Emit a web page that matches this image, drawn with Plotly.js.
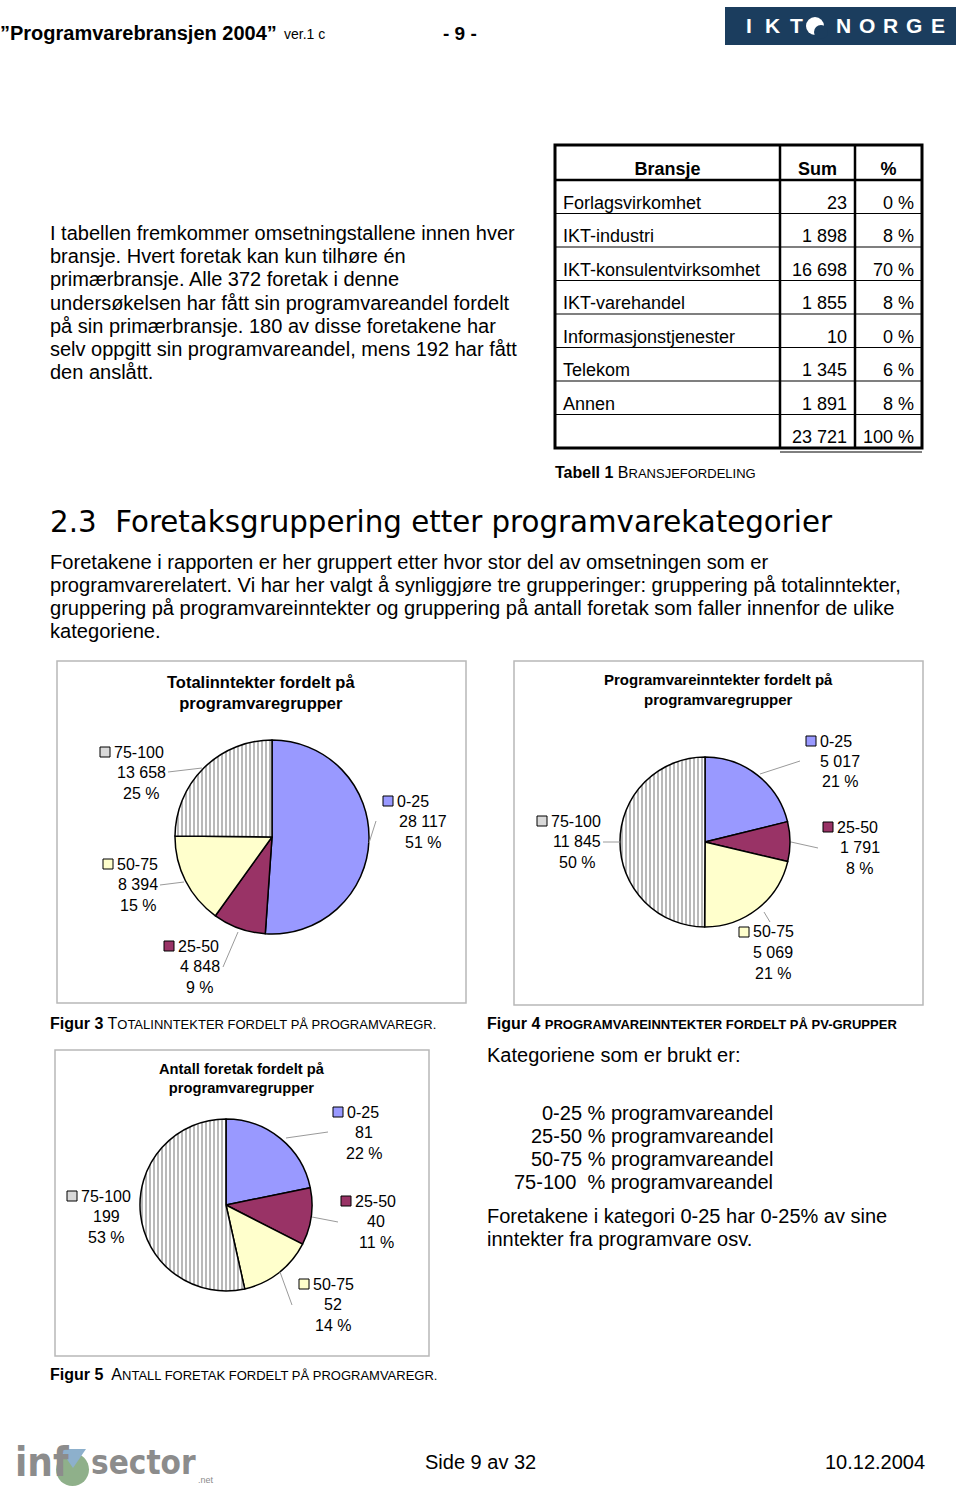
<!DOCTYPE html>
<html>
<head>
<meta charset="utf-8">
<script src="https://cdn.plot.ly/plotly-3.0.1.min.js"></script>
<style>
  body { margin: 0; background: #fff; }
  #page { width: 960px; height: 1491px; }
</style>
</head>
<body>
<div id="page"></div>
<script>
// table 1 - bransjefordeling
var bransjer = ['Forlagsvirkomhet', 'IKT-industri', 'IKT-konsulentvirksomhet', 'IKT-varehandel',
  'Informasjonstjenester', 'Telekom', 'Annen'];
var bransjeSum = [23, 1898, 16698, 1855, 10, 1345, 1891];
var bransjePct = [0, 8, 70, 8, 0, 6, 8];
var bransjeTotal = 23721;

// pie data, same groups in all three charts
var groups = ['0-25', '25-50', '50-75', '75-100'];
var groupColors = ['#9999FF', '#993366', '#FFFFCC', '#FFFFFF'];
var totalInntekter = [28117, 4848, 8394, 13658];
var pvInntekter = [5017, 1791, 5069, 11845];
var antallForetak = [81, 40, 52, 199];

var W = 960, H = 1491;
function X(p) { return p / W; }
function Y(p) { return 1 - p / H; }
var NB = '\u00a0';
function fmt(n) { return String(n).replace(/\B(?=(\d{3})+(?!\d))/g, NB); }

var FONT = 'Liberation Sans, Arial, sans-serif';
var annotations = [];
var shapes = [];

function txt(x, y, text, size, opt) {
  opt = opt || {};
  var xa = opt.xanchor || 'left';
  var dx = xa === 'left' ? -2 : (xa === 'right' ? 2 : 0);
  annotations.push({
    xref: 'paper', yref: 'paper', x: X(x + dx), y: Y(y), text: text, showarrow: false,
    xanchor: xa, yanchor: 'middle', align: opt.align || 'left',
    font: { family: opt.family || FONT, size: size, color: opt.color || '#000' }
  });
}
function rect(x0, y0, x1, y1, line, fill, lw) {
  shapes.push({ type: 'rect', xref: 'paper', yref: 'paper', x0: X(x0), x1: X(x1), y0: Y(y0), y1: Y(y1),
    line: { color: line, width: lw === undefined ? 1 : lw }, fillcolor: fill || 'rgba(0,0,0,0)' });
}
function seg(x0, y0, x1, y1, color, lw) {
  shapes.push({ type: 'line', xref: 'paper', yref: 'paper', x0: X(x0), x1: X(x1), y0: Y(y0), y1: Y(y1),
    line: { color: color, width: lw } });
}

// header
txt(0, 33, '<b>”Programvarebransjen 2004”</b>', 20);
txt(284, 34, 'ver.1 c', 14);
txt(443, 33, '<b>- 9 -</b>', 19);
rect(725, 7, 956, 45, '#1b3d5e', '#1b3d5e', 0);
var logoLetters = ['I', 'K', 'T', '', 'N', 'O', 'R', 'G', 'E'];
logoLetters.forEach(function (c, i) {
  if (c) txt(749 + i * 23.6, 26, '<b>' + c + '</b>', 21, { xanchor: 'center', color: '#fff' });
});
shapes.push({ type: 'circle', xref: 'paper', yref: 'paper', x0: X(806), x1: X(824), y0: Y(35), y1: Y(17),
  fillcolor: '#fff', line: { width: 0 } });
shapes.push({ type: 'circle', xref: 'paper', yref: 'paper', x0: X(814), x1: X(828), y0: Y(39), y1: Y(25),
  fillcolor: '#1b3d5e', line: { width: 0 } });

// intro paragraph
var para1 = ['I tabellen fremkommer omsetningstallene innen hver',
  'bransje. Hvert foretak kan kun tilhøre én',
  'primærbransje. Alle 372 foretak i denne',
  'undersøkelsen har fått sin programvareandel fordelt',
  'på sin primærbransje. 180 av disse foretakene har',
  'selv oppgitt sin programvareandel, mens 192 har fått',
  'den anslått.'];
para1.forEach(function (l, i) { txt(50, 233 + i * 23.2, l, 20); });

// table caption
txt(555, 472, '<b>Tabell 1</b> B<span style="font-size:13px">RANSJEFORDELING</span>', 16);

// section heading + text
txt(50, 522, '2.3  Foretaksgruppering etter programvarekategorier', 29.3, { family: 'DejaVu Sans, Verdana, sans-serif' });
var para2 = ['Foretakene i rapporten er her gruppert etter hvor stor del av omsetningen som er',
  'programvarerelatert. Vi har her valgt å synliggjøre tre grupperinger: gruppering på totalinntekter,',
  'gruppering på programvareinntekter og gruppering på antall foretak som faller innenfor de ulike',
  'kategoriene.'];
para2.forEach(function (l, i) { txt(50, 562 + i * 23, l, 20.1); });

// chart frames
rect(57, 661, 466, 1003, '#b8b8b8', null, 1.5);
rect(514, 661, 923, 1005, '#b8b8b8', null, 1.5);
rect(55, 1050, 429, 1356, '#b8b8b8', null, 1.5);

// chart titles
txt(261, 692, '<b>Totalinntekter fordelt på<br>programvaregrupper</b>', 16.5, { xanchor: 'center', align: 'center' });
txt(718, 690, '<b>Programvareinntekter fordelt på<br>programvaregrupper</b>', 15, { xanchor: 'center', align: 'center' });
txt(242, 1078, '<b>Antall foretak fordelt på<br>programvaregrupper</b>', 14.7, { xanchor: 'center', align: 'center' });

// captions
txt(50, 1023, '<b>Figur 3</b> T<span style="font-size:13px">OTALINNTEKTER FORDELT PÅ PROGRAMVAREGR.</span>', 16);
txt(487, 1023, '<b>Figur 4 <span style="font-size:13px">PROGRAMVAREINNTEKTER FORDELT PÅ PV-GRUPPER</span></b>', 16);
txt(50, 1374, '<b>Figur 5</b>  A<span style="font-size:13px">NTALL FORETAK FORDELT PÅ PROGRAMVAREGR.</span>', 16);

// category text on the right
txt(487, 1055, 'Kategoriene som er brukt er:', 20);
var katLines = ['0-25 % programvareandel', '25-50 % programvareandel', '50-75 % programvareandel', '75-100  % programvareandel'];
katLines.forEach(function (l, i) { txt(773, 1113 + i * 23, l, 20, { xanchor: 'right' }); });
txt(487, 1216, 'Foretakene i kategori 0-25 har 0-25% av sine', 20);
txt(487, 1239, 'inntekter fra programvare osv.', 20);

// footer
txt(425, 1462, 'Side 9 av 32', 20);
txt(825, 1462, '10.12.2004', 20);
var LOGO = 'DejaVu Sans Condensed, DejaVu Sans, sans-serif';
txt(15, 1462, '<b>inf</b>', 40, { family: LOGO, color: '#8c8c8c' });
shapes.push({ type: 'circle', xref: 'paper', yref: 'paper', x0: X(56), x1: X(89), y0: Y(1486), y1: Y(1453),
  fillcolor: '#8fb08a', line: { width: 0 } });
shapes.push({ type: 'path', xref: 'paper', yref: 'paper',
  path: 'M' + X(60) + ',' + Y(1449) + ' L' + X(86) + ',' + Y(1449) + ' L' + X(73) + ',' + Y(1468) + ' Z',
  fillcolor: '#8db0cc', line: { width: 0 } });
txt(91, 1462, '<b>sector</b>', 33, { family: LOGO, color: '#8c8c8c' });
txt(198, 1480, '.net', 9, { color: '#8c8c8c' });

// pies
function pieTrace(vals, cx, cy, r) {
  return {
    type: 'pie', values: vals, labels: groups, sort: false, direction: 'clockwise', rotation: 0,
    textinfo: 'none', hoverinfo: 'label+value+percent',
    domain: { x: [X(cx - r), X(cx + r)], y: [Y(cy + r), Y(cy - r)] },
    marker: {
      colors: groupColors, line: { color: '#000', width: 1.5 },
      pattern: { shape: ['', '', '', '|'], fgcolor: '#8a8a8a', size: 4, solidity: 0.3 }
    }
  };
}

// label blocks: [square x, square y, value centre x]
function pieLabels(vals, pos, leaders) {
  var sum = vals.reduce(function (a, b) { return a + b; }, 0);
  vals.forEach(function (v, i) {
    var p = pos[i];
    rect(p[0] - 5, p[1] - 5, p[0] + 5, p[1] + 5, '#000', i === 3 ? '#d9d9d9' : groupColors[i], 1);
    txt(p[0] + 9, p[1], groups[i], 16);
    txt(p[2], p[1] + 20.5, fmt(v), 16, { xanchor: 'center' });
    txt(p[2], p[1] + 41, Math.round(v / sum * 100) + ' %', 16, { xanchor: 'center' });
  });
  leaders.forEach(function (l) { seg(l[0], l[1], l[2], l[3], '#9a9a9a', 1); });
}

pieLabels(totalInntekter,
  [[388, 801, 423], [169, 946, 200], [108, 864, 138], [105, 752, 141]],
  [[376, 821, 369, 843], [223, 967, 238, 932], [160, 885, 184, 882], [168, 772, 202, 768]]);
pieLabels(pvInntekter,
  [[811, 741, 840], [828, 827, 860], [744, 932, 773], [542, 821, 577]],
  [[800, 761, 760, 774], [818, 848, 791, 842], [770, 922, 764, 912], [603, 842, 620, 842]]);
pieLabels(antallForetak,
  [[338, 1112, 364], [346, 1201, 376], [304, 1284, 333], [72, 1196, 106]],
  [[328, 1132, 286, 1138], [338, 1222, 312, 1217], [292, 1305, 280, 1272]]);

// table: text sits low in its rows, so the trace is nudged down and the rules are drawn as shapes
var T_TOP = 145, T_HEAD = 35, T_ROW = 33.5, T_NUDGE = 6;
var nRows = bransjer.length + 1;
var tableTrace = {
  type: 'table',
  domain: { x: [X(555), X(922)], y: [Y(T_TOP + T_NUDGE + T_HEAD + nRows * T_ROW + 1), Y(T_TOP + T_NUDGE)] },
  columnwidth: [225, 75, 67],
  header: {
    values: ['<b>Bransje</b>', '<b>Sum</b>', '<b>%</b>'],
    align: 'center', height: T_HEAD, line: { color: 'rgba(0,0,0,0)', width: 0 }, fill: { color: 'rgba(0,0,0,0)' },
    font: { family: FONT, size: 18, color: '#000' }
  },
  cells: {
    values: [bransjer.concat(['']),
      bransjeSum.map(fmt).concat([fmt(bransjeTotal)]),
      bransjePct.map(function (p) { return p + NB + '%'; }).concat(['100' + NB + '%'])],
    align: ['left', 'right', 'right'], height: T_ROW, line: { color: 'rgba(0,0,0,0)', width: 0 },
    fill: { color: 'rgba(0,0,0,0)' }, font: { family: FONT, size: 18, color: '#000' }
  }
};
var T_BOT = T_TOP + T_HEAD + nRows * T_ROW;
for (var r = 1; r < nRows; r++) {
  seg(555, T_TOP + T_HEAD + r * T_ROW, 922, T_TOP + T_HEAD + r * T_ROW, '#000', 1.2);
}
rect(555, T_TOP, 922, T_BOT, '#000', null, 3);
seg(780, T_TOP, 780, T_BOT, '#000', 2.5);
seg(855, T_TOP, 855, T_BOT, '#000', 2.5);
seg(555, T_TOP + T_HEAD, 922, T_TOP + T_HEAD, '#000', 2.5);
seg(780, T_BOT + 4, 922, T_BOT + 4, '#000', 1);

Plotly.newPlot('page', [tableTrace, pieTrace(totalInntekter, 272, 837, 97),
  pieTrace(pvInntekter, 705, 842, 85), pieTrace(antallForetak, 226, 1205, 86)], {
  width: W, height: H, margin: { l: 0, r: 0, t: 0, b: 0 },
  paper_bgcolor: '#fff', showlegend: false,
  annotations: annotations, shapes: shapes
}, { staticPlot: true });
</script>
</body>
</html>
